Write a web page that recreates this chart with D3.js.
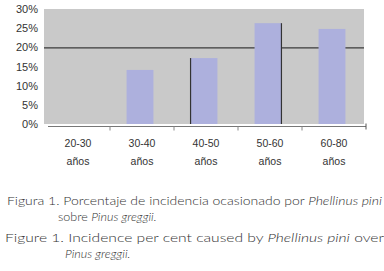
<!DOCTYPE html>
<html>
<head>
<meta charset="utf-8">
<script src="https://cdn.jsdelivr.net/npm/d3@7"></script>
<style>
  body { margin: 0; background: #fff; }
  svg { display: block; }
  .cap { font-family: "Lato", "Open Sans", sans-serif; font-size: 12.5px; fill: #333; font-weight: 300; }
</style>
</head>
<body>
<script>
const ages = ["20-30", "30-40", "40-50", "50-60", "60-80"];
const unitLabel = "años";
const incidence = [0, 14.1, 17.2, 26.3, 24.8];
const yTicks = [0, 5, 10, 15, 20, 25, 30];
const gridAt = [20];

const w = 384, h = 271;
const plot = { left: 44, right: 364, top: 9, bottom: 124 };

const svg = d3.select("body").append("svg")
  .attr("width", w)
  .attr("height", h);

const x = d3.scaleBand()
  .domain(ages)
  .range([plot.left, plot.right])
  .paddingInner(0.58)
  .paddingOuter(0.29);

const xCat = d3.scaleBand()
  .domain(ages)
  .range([plot.left, plot.right]);

const y = d3.scaleLinear()
  .domain([0, 30])
  .range([plot.bottom, plot.top]);

// plot area
svg.append("rect")
  .attr("x", plot.left)
  .attr("y", plot.top)
  .attr("width", plot.right - plot.left)
  .attr("height", plot.bottom - plot.top)
  .attr("fill", "#c9c9c9");

// the one gridline
svg.selectAll(".grid").data(gridAt).enter()
  .append("line")
  .attr("x1", plot.left)
  .attr("x2", plot.right)
  .attr("y1", d => y(d) + 0.5)
  .attr("y2", d => y(d) + 0.5)
  .attr("stroke", "#3a3a3a")
  .attr("stroke-width", 1.2);

// bars
svg.selectAll(".bar").data(incidence).enter()
  .append("rect")
  .attr("class", "bar")
  .attr("x", (d, i) => x(ages[i]))
  .attr("y", d => y(d))
  .attr("width", x.bandwidth())
  .attr("height", d => y(0) - y(d))
  .attr("fill", "#adb0dd");

// dark edges left by the scan on two bars
const edges = [{ i: 2, side: 0 }, { i: 3, side: 1 }];
svg.selectAll(".edge").data(edges).enter()
  .append("line")
  .attr("x1", d => x(ages[d.i]) + d.side * x.bandwidth())
  .attr("x2", d => x(ages[d.i]) + d.side * x.bandwidth())
  .attr("y1", d => y(incidence[d.i]))
  .attr("y2", y(0))
  .attr("stroke", "#333")
  .attr("stroke-width", 1.2);

// y axis labels
svg.selectAll(".ylab").data(yTicks).enter()
  .append("text")
  .attr("x", 38)
  .attr("y", d => y(d) + 4)
  .attr("text-anchor", "end")
  .attr("font-family", "Liberation Sans, Arial, sans-serif")
  .attr("font-size", 11)
  .attr("fill", "#333")
  .text(d => d + "%");

// x axis
const axisY = plot.bottom + 2.5;
svg.append("line")
  .attr("x1", plot.left + 4)
  .attr("x2", plot.right + 2)
  .attr("y1", axisY)
  .attr("y2", axisY)
  .attr("stroke", "#777");

svg.selectAll(".tick").data(ages.slice(1)).enter()
  .append("line")
  .attr("x1", d => xCat(d) + 2)
  .attr("x2", d => xCat(d) + 2)
  .attr("y1", axisY)
  .attr("y2", axisY + 4)
  .attr("stroke", "#888");

svg.append("line")
  .attr("x1", plot.right + 2)
  .attr("x2", plot.right + 2)
  .attr("y1", axisY - 3)
  .attr("y2", axisY + 3)
  .attr("stroke", "#555");

const xl = svg.selectAll(".xlab").data(ages).enter()
  .append("text")
  .attr("text-anchor", "middle")
  .attr("font-family", "Liberation Sans, Arial, sans-serif")
  .attr("font-size", 10.5)
  .attr("fill", "#333");
xl.append("tspan")
  .attr("x", d => xCat(d) + xCat.bandwidth() / 2 + 2)
  .attr("y", 147)
  .text(d => d);
xl.append("tspan")
  .attr("x", d => xCat(d) + xCat.bandwidth() / 2 + 2)
  .attr("y", 165)
  .text(unitLabel);

// caption
const captions = [
  { x: 7, y: 205, len: 375, parts: [["Figura 1. Porcentaje de incidencia ocasionado por ", false], ["Phellinus pini", true]] },
  { x: 58, y: 221, len: 0, parts: [["sobre ", false], ["Pinus greggii.", true]] },
  { x: 5, y: 242, len: 379, parts: [["Figure 1. Incidence per cent caused by ", false], ["Phellinus pini", true], [" over", false]] },
  { x: 65, y: 258, len: 0, parts: [["Pinus greggii.", true]] }
];
captions.forEach(c => {
  const t = svg.append("text")
    .attr("class", "cap")
    .attr("x", c.x)
    .attr("y", c.y);
  if (c.len) t.attr("textLength", c.len).attr("lengthAdjust", "spacingAndGlyphs");
  c.parts.forEach(p => {
    t.append("tspan")
      .attr("font-style", p[1] ? "italic" : "normal")
      .text(p[0]);
  });
});
</script>
</body>
</html>
